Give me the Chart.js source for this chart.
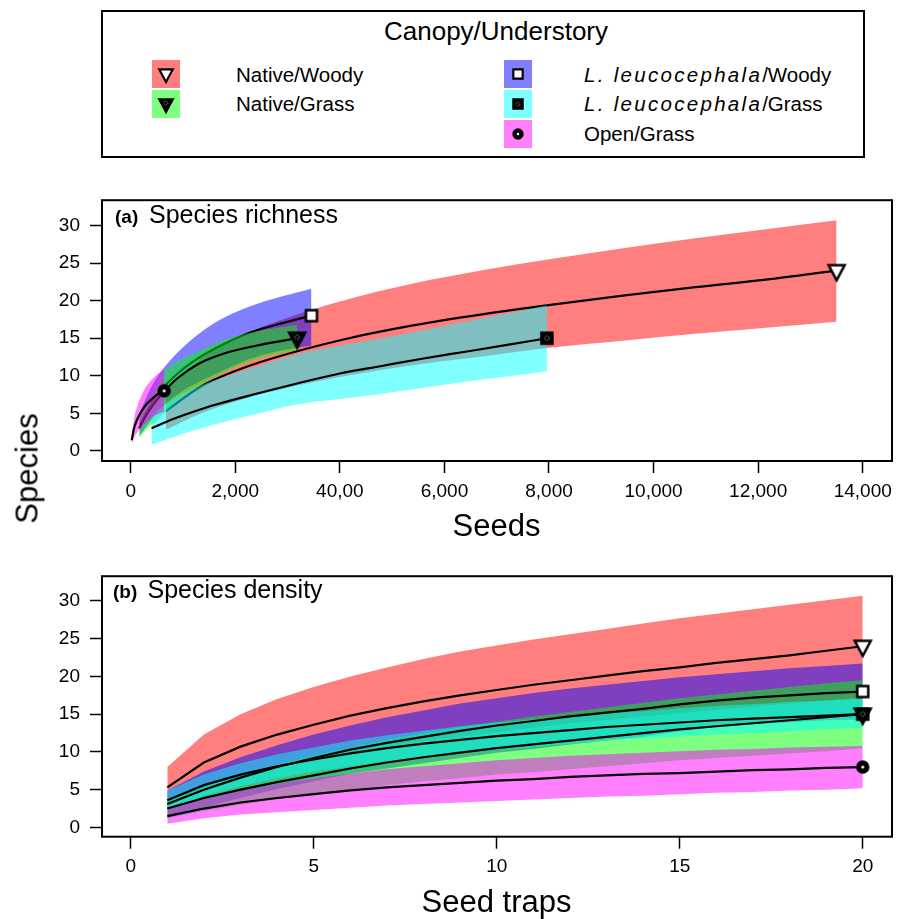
<!DOCTYPE html>
<html>
<head>
<meta charset="utf-8">
<title>Species richness and density</title>
<script src="https://cdn.jsdelivr.net/npm/chart.js@4.4.1/dist/chart.umd.min.js"></script>
<style>
  body { margin: 0; width: 906px; height: 919px; position: relative; overflow: hidden; background: #fff;
         font-family: "Liberation Sans", Arial, Helvetica, sans-serif; color: #000; }
  .t { position: absolute; white-space: nowrap; line-height: 1; }
  .chart { position: absolute; left: 0; }
  #legendBox { position: absolute; left: 101px; top: 10px; width: 764px; height: 148px;
               border: 2px solid #000; box-sizing: border-box; }
  .sw { position: absolute; width: 28px; height: 28px; }
  .sw canvas { position: absolute; left: 50%; top: 50%; transform: translate(-50%, -50%); }
  .it { font-style: italic; letter-spacing: 2.3px; }
</style>
</head>
<body>

<div id="legendBox"></div>
<div class="t" style="left:96px;top:18px;width:800px;text-align:center;font-size:26px">Canopy/Understory</div>
<div class="t" style="left:236px;top:65px;font-size:20.5px">Native/Woody</div>
<div class="t" style="left:236px;top:94.4px;font-size:20.5px">Native/Grass</div>
<div class="t" style="left:584px;top:65px;font-size:20.5px"><span class="it">L. leucocephala</span>/Woody</div>
<div class="t" style="left:584px;top:94.4px;font-size:20.5px"><span class="it">L. leucocephala</span>/Grass</div>
<div class="t" style="left:584px;top:124.4px;font-size:20.5px">Open/Grass</div>

<canvas id="richChart" class="chart" width="906" height="320" style="top:190px"></canvas>
<canvas id="densChart" class="chart" width="906" height="320" style="top:566px"></canvas>

<div class="t" style="left:115px;top:207px;font-size:19px;font-weight:bold">(a)</div>
<div class="t" style="left:149px;top:201.8px;font-size:25px">Species richness</div>
<div class="t" style="left:113px;top:582px;font-size:19px;font-weight:bold">(b)</div>
<div class="t" style="left:147.5px;top:576.8px;font-size:25px">Species density</div>

<div class="t" style="left:296.5px;top:509.8px;width:400px;text-align:center;font-size:31px">Seeds</div>
<div class="t" style="left:296.5px;top:885.8px;width:400px;text-align:center;font-size:31px">Seed traps</div>
<div class="t" style="left:-72.7px;top:453px;width:200px;height:31px;line-height:31px;text-align:center;font-size:31px;transform:rotate(-90deg)">Species</div>

<script>
const fontFamily = '"Liberation Sans", Arial, Helvetica, sans-serif';

// axis ticks
const seedTicks = [0, 2000, 4000, 6000, 8000, 10000, 12000, 14000];
const seedTickLabels = ['0', '2,000', '40,00', '6,000', '8,000', '10,000', '12,000', '14,000'];
const trapTicks = [0, 5, 10, 15, 20];
const speciesTicks = [0, 5, 10, 15, 20, 25, 30];

// (a) species richness vs seeds
const seedsNW = [675, 1350, 2025, 2700, 4050, 5400, 6750, 8100, 9450, 10800, 12150, 13500];
const richNW = [5.3, 8.6, 10.7, 12.3, 14.8, 16.7, 18.2, 19.5, 20.7, 21.8, 22.8, 24.0];
const richNWHi = [8.0, 12.3, 15.0, 17.0, 20.0, 22.3, 24.1, 25.6, 27.0, 28.3, 29.5, 30.7];
const richNWLo = [2.8, 5.0, 6.6, 7.9, 9.9, 11.4, 12.6, 13.8, 14.7, 15.6, 16.4, 17.2];

const seedsLW = [173, 350, 520, 700, 1000, 1400, 1800, 2300, 2900, 3457];
const richLW = [3.5, 5.8, 7.6, 9.0, 10.9, 12.8, 14.3, 15.8, 17.0, 18.0];
const richLWHi = [5.0, 7.9, 10.0, 11.6, 13.8, 16.1, 17.8, 19.3, 20.6, 21.6];
const richLWLo = [2.0, 3.7, 5.2, 6.4, 8.0, 9.5, 10.8, 12.3, 13.4, 14.0];

const seedsNG = [159, 320, 480, 640, 900, 1300, 1800, 2400, 3183];
const richNG = [3.0, 5.0, 6.6, 7.9, 9.7, 11.6, 13.0, 14.0, 15.0];
const richNGHi = [4.2, 6.4, 8.5, 10.5, 11.9, 13.3, 14.8, 15.9, 16.8];
const richNGLo = [1.8, 3.0, 4.0, 5.0, 6.8, 8.6, 10.5, 12.2, 13.4];

const seedsLG = [398, 800, 1200, 1600, 2400, 3200, 4000, 4800, 5600, 6400, 7200, 7960];
const richLG = [3.0, 4.2, 5.2, 6.1, 7.6, 9.0, 10.3, 11.3, 12.3, 13.2, 14.1, 15.0];
const richLGHi = [4.9, 6.9, 8.3, 9.4, 11.2, 12.9, 14.0, 15.0, 16.1, 17.2, 18.3, 19.4];
const richLGLo = [0.8, 1.8, 2.7, 3.5, 4.9, 6.2, 6.9, 7.6, 8.4, 9.2, 9.9, 10.6];

const seedsOG = [20, 60, 120, 200, 300, 420, 530, 640];
const richOG = [1.4, 2.9, 4.1, 5.2, 6.2, 7.0, 7.6, 8.0];
const richOGHi = [1.9, 4.1, 5.8, 7.3, 8.6, 9.6, 10.3, 10.8];
const richOGLo = [0.9, 1.7, 2.4, 3.1, 3.8, 4.5, 4.9, 5.2];

// (b) species density vs seed traps
const traps = [1, 2, 3, 4, 5, 6, 7, 8, 9, 10, 11, 12, 13, 14, 15, 16, 17, 18, 19, 20];
const densNW = [5.3, 8.6, 10.7, 12.3, 13.6, 14.8, 15.8, 16.7, 17.5, 18.2, 18.9, 19.5, 20.1, 20.7, 21.2, 21.8, 22.3, 22.8, 23.4, 24.0];
const densNWHi = [8.0, 12.3, 15.0, 17.0, 18.6, 20.0, 21.2, 22.3, 23.3, 24.1, 24.9, 25.6, 26.3, 27.0, 27.7, 28.3, 28.9, 29.5, 30.1, 30.7];
const densNWLo = [2.8, 5.0, 6.6, 7.9, 9.0, 9.9, 10.7, 11.4, 12.0, 12.6, 13.2, 13.8, 14.2, 14.7, 15.1, 15.6, 16.0, 16.4, 16.8, 17.2];

const densLW = [3.1, 5.0, 6.6, 8.0, 9.2, 10.3, 11.2, 12.0, 12.8, 13.5, 14.1, 14.7, 15.2, 15.7, 16.3, 16.8, 17.2, 17.5, 17.8, 18.0];
const densLWHi = [4.9, 7.4, 9.3, 10.9, 12.3, 13.5, 14.6, 15.5, 16.4, 17.1, 17.8, 18.4, 18.9, 19.4, 19.9, 20.3, 20.7, 21.1, 21.4, 21.7];
const densLWLo = [1.3, 2.6, 3.9, 5.1, 6.1, 7.1, 7.8, 8.5, 9.2, 9.9, 10.4, 11.0, 11.5, 12.0, 12.7, 13.3, 13.7, 13.9, 14.2, 14.3];

const densNG = [2.5, 3.9, 5.0, 6.0, 6.9, 7.8, 8.6, 9.3, 9.9, 10.5, 11.0, 11.5, 12.0, 12.5, 13.0, 13.4, 13.8, 14.2, 14.6, 15.0];
const densNGHi = [3.8, 5.6, 7.0, 8.3, 9.5, 10.6, 11.6, 12.5, 13.3, 14.0, 14.7, 15.3, 15.9, 16.5, 17.1, 17.6, 18.1, 18.6, 19.1, 19.5];
const densNGLo = [1.2, 2.2, 3.0, 3.7, 4.3, 5.0, 5.6, 6.1, 6.5, 7.0, 7.3, 7.7, 8.1, 8.5, 8.9, 9.2, 9.5, 9.8, 10.1, 10.5];

const densLG = [3.6, 5.6, 7.0, 8.1, 9.0, 9.8, 10.5, 11.1, 11.6, 12.1, 12.5, 12.9, 13.3, 13.6, 13.9, 14.2, 14.4, 14.6, 14.8, 15.0];
const densLGHi = [4.9, 7.0, 8.5, 9.7, 10.6, 11.5, 12.2, 12.8, 13.4, 13.9, 14.3, 14.7, 15.1, 15.4, 15.8, 16.1, 16.3, 16.6, 16.8, 17.0];
const densLGLo = [2.3, 4.2, 5.5, 6.5, 7.4, 8.1, 8.8, 9.4, 9.8, 10.3, 10.7, 11.1, 11.5, 11.8, 12.0, 12.3, 12.5, 12.7, 13.0, 13.2];

const densOG = [1.5, 2.5, 3.3, 3.9, 4.4, 4.9, 5.3, 5.6, 5.9, 6.2, 6.4, 6.7, 6.9, 7.1, 7.2, 7.4, 7.6, 7.7, 7.9, 8.0];
const densOGHi = [2.5, 3.8, 4.9, 5.8, 6.5, 7.1, 7.7, 8.1, 8.5, 8.9, 9.2, 9.5, 9.7, 9.9, 10.1, 10.3, 10.4, 10.6, 10.7, 10.8];
const densOGLo = [0.5, 1.2, 1.7, 2.0, 2.3, 2.6, 2.9, 3.1, 3.3, 3.5, 3.7, 3.9, 4.1, 4.2, 4.4, 4.6, 4.7, 4.9, 5.0, 5.2];

// groups in drawing order: red, blue, green, cyan, magenta
const groupColors = ['rgba(255,0,0,0.5)', 'rgba(0,0,255,0.5)', 'rgba(0,255,0,0.5)', 'rgba(0,255,255,0.5)', 'rgba(255,0,255,0.5)'];
const markerKinds = ['triOpen', 'squareOpen', 'triDot', 'squareDot', 'circleDot'];

const richness = [
  { x: seedsNW, mean: richNW, lo: richNWLo, hi: richNWHi },
  { x: seedsLW, mean: richLW, lo: richLWLo, hi: richLWHi },
  { x: seedsNG, mean: richNG, lo: richNGLo, hi: richNGHi },
  { x: seedsLG, mean: richLG, lo: richLGLo, hi: richLGHi },
  { x: seedsOG, mean: richOG, lo: richOGLo, hi: richOGHi }
];
const density = [
  { x: traps, mean: densNW, lo: densNWLo, hi: densNWHi },
  { x: traps, mean: densLW, lo: densLWLo, hi: densLWHi },
  { x: traps, mean: densNG, lo: densNGLo, hi: densNGHi },
  { x: traps, mean: densLG, lo: densLGLo, hi: densLGHi },
  { x: traps, mean: densOG, lo: densOGLo, hi: densOGHi }
];

// little canvases used both as point styles and in the legend
function makeMarker(kind, scale) {
  const c = document.createElement('canvas');
  c.width = c.height = Math.ceil(28 * scale);
  const g = c.getContext('2d');
  g.translate(c.width / 2, c.height / 2);
  g.scale(scale, scale);
  g.lineWidth = 2.5;
  g.strokeStyle = '#000';
  g.beginPath();
  if (kind === 'triOpen' || kind === 'triDot') {
    g.moveTo(-8, -5.5); g.lineTo(8, -5.5); g.lineTo(0, 9.5); g.closePath();
  } else if (kind === 'squareOpen' || kind === 'squareDot') {
    g.rect(-5.5, -5.5, 11, 11);
  } else {
    g.arc(0, 0, 5.2, 0, Math.PI * 2);
  }
  if (kind === 'triOpen' || kind === 'squareOpen') {
    g.fillStyle = '#fff'; g.fill(); g.stroke();
  } else {
    g.fillStyle = '#000'; g.fill();
    if (kind === 'circleDot') g.lineWidth = 3;
    g.stroke();
    g.beginPath();
    g.arc(0, kind === 'triDot' ? -1 : 0, kind === 'circleDot' ? 1.5 : 2.2, 0, Math.PI * 2);
    if (kind === 'circleDot') { g.fillStyle = '#fff'; g.fill(); }
    else { g.strokeStyle = '#ddd'; g.lineWidth = 0.8; g.setLineDash([1, 1]); g.stroke(); }
  }
  return c;
}

// legend swatches
const swatchSpots = [[152, 60], [504, 60], [152, 90], [504, 90], [504, 120]];
groupColors.forEach((col, i) => {
  const d = document.createElement('div');
  d.className = 'sw';
  d.style.left = swatchSpots[i][0] + 'px';
  d.style.top = swatchSpots[i][1] + 'px';
  d.style.background = col;
  d.appendChild(makeMarker(markerKinds[i], 0.85));
  document.body.appendChild(d);
});

// plot frame on all four sides
const framePlugin = {
  id: 'frame',
  afterDraw(chart) {
    const { ctx, chartArea: a } = chart;
    ctx.save();
    ctx.strokeStyle = '#000';
    ctx.lineWidth = 2;
    ctx.strokeRect(a.left, a.top, a.right - a.left, a.bottom - a.top);
    ctx.restore();
  }
};

function buildDatasets(series, curved, linesOnTop) {
  const sets = [];
  series.forEach((s, g) => {
    const pts = arr => s.x.map((x, i) => ({ x: x, y: arr[i] }));
    const mode = curved ? 'monotone' : 'default';
    const last = s.x.length - 1;
    sets.push({
      data: pts(s.hi), fill: '+1', backgroundColor: groupColors[g],
      borderColor: 'rgba(0,0,0,0)', borderWidth: 0, pointRadius: 0,
      cubicInterpolationMode: mode, order: 100 - g * 2
    });
    sets.push({
      data: pts(s.lo), fill: false, borderColor: 'rgba(0,0,0,0)', borderWidth: 0,
      pointRadius: 0, cubicInterpolationMode: mode, order: 0
    });
    sets.push({
      data: pts(s.mean), fill: false, borderColor: '#000', borderWidth: 2.2,
      cubicInterpolationMode: mode,
      pointRadius: c => (c.dataIndex === last ? 8 : 0),
      pointStyle: makeMarker(markerKinds[g], 1),
      order: linesOnTop ? 50 - g : 99 - g * 2
    });
  });
  return sets;
}

function axis(min, max, tickValues, labels, fit) {
  return {
    type: 'linear', min: min, max: max,
    afterBuildTicks: s => { s.ticks = tickValues.map(v => ({ value: v })); },
    afterFit: s => {
      fit(s);
      // keep label overhang from pushing the plot area around
      s.paddingTop = 0; s.paddingBottom = 0; s.paddingLeft = 0; s.paddingRight = 0;
    },
    border: { display: false },
    grid: { drawOnChartArea: false, drawTicks: true, tickLength: 12, tickColor: '#000', tickWidth: 1.5 },
    ticks: {
      color: '#000', autoSkip: false, maxRotation: 0,
      font: { family: fontFamily, size: 19 },
      callback: (v, i) => (labels ? labels[i] : String(v))
    }
  };
}

function makeChart(id, series, curved, linesOnTop, xAxis, yAxis, pad) {
  return new Chart(document.getElementById(id), {
    type: 'line',
    data: { datasets: buildDatasets(series, curved, linesOnTop) },
    options: {
      responsive: false, animation: false, devicePixelRatio: 1,
      layout: { padding: pad },
      plugins: { legend: { display: false }, tooltip: { enabled: false } },
      scales: { x: xAxis, y: yAxis }
    },
    plugins: [framePlugin]
  });
}

const xRich = axis(-549, 14560, seedTicks, seedTickLabels, s => { s.height = 49; });
xRich.ticks.padding = 7;
const yRich = axis(-1.355, 33.38, speciesTicks, null, s => { s.width = 102; });
yRich.ticks.padding = 10;
makeChart('richChart', richness, true, false, xRich, yRich, { left: 0, right: 14, top: 7, bottom: 0 });

const xDens = axis(-0.784, 20.8, trapTicks, null, s => { s.height = 49.3; });
xDens.ticks.padding = 7;
const yDens = axis(-1.23, 33.28, speciesTicks, null, s => { s.width = 102; });
yDens.ticks.padding = 10;
makeChart('densChart', density, false, true, xDens, yDens, { left: 0, right: 14, top: 7.3, bottom: 0 });
</script>
</body>
</html>
